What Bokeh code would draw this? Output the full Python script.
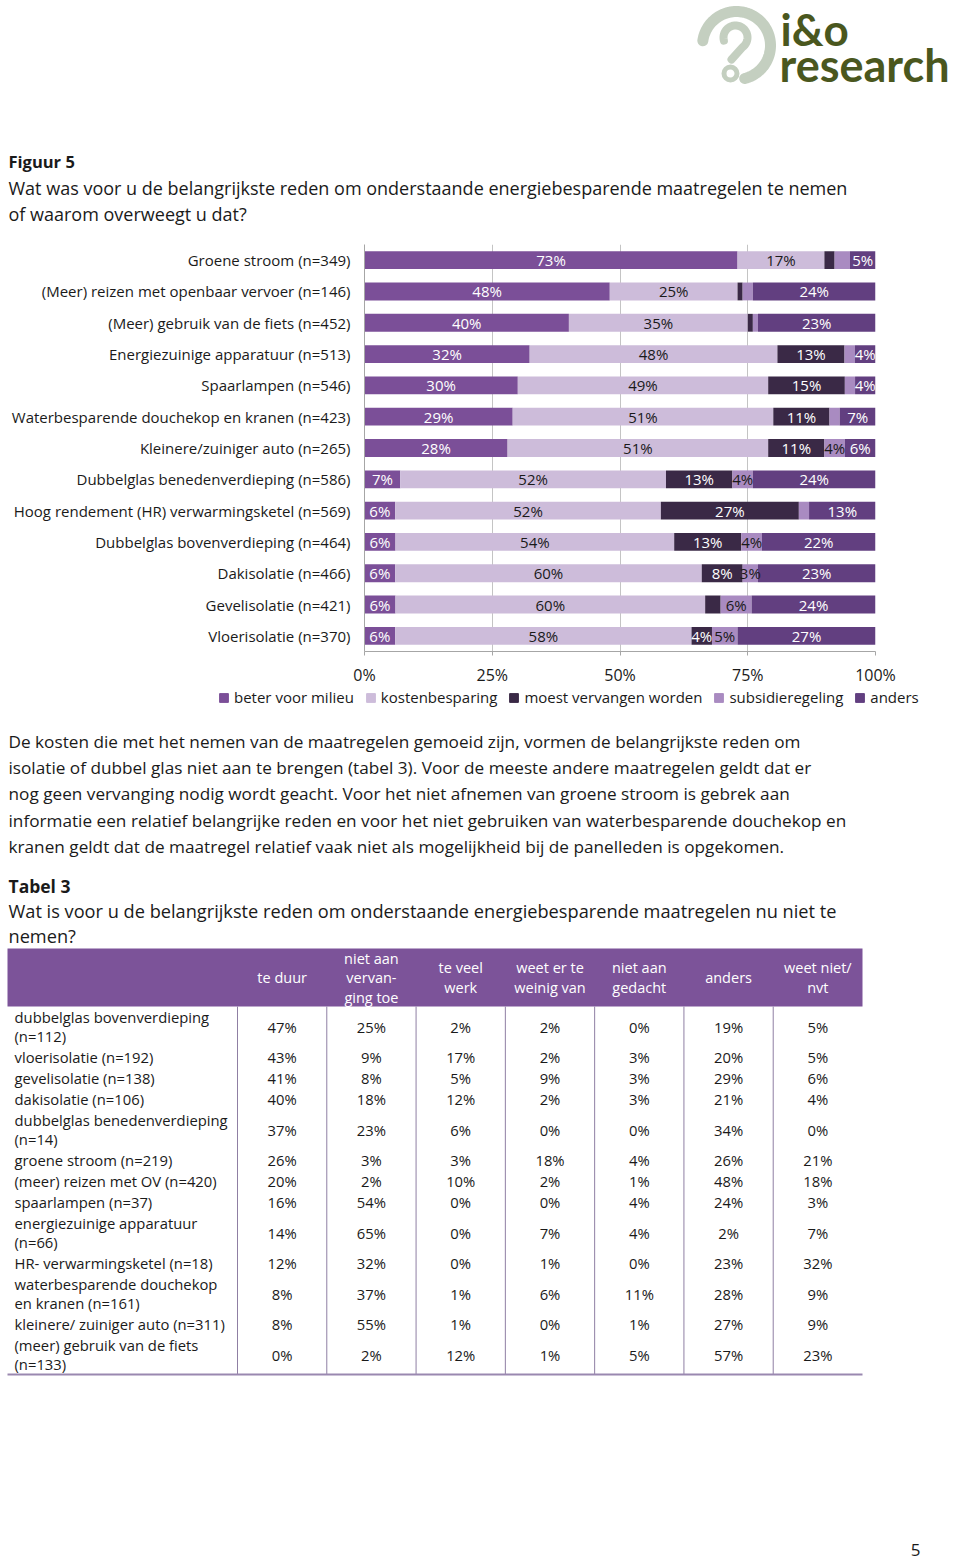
import numpy as np
import pandas as pd
from bokeh.plotting import figure
from bokeh.models import (ColumnDataSource, Range1d, FactorRange, Legend, LegendItem,
                          FixedTicker)
from bokeh.layouts import column
from bokeh.core.properties import value
from bokeh.embed import file_html
from bokeh.resources import INLINE

FONT = "Open Sans"
TXT = "#1a1a1a"

# ---------------- data: figure 5 (stacked 100% bars) ----------------
categories = [
    "Groene stroom (n=349)",
    "(Meer) reizen met openbaar vervoer (n=146)",
    "(Meer) gebruik van de fiets (n=452)",
    "Energiezuinige apparatuur (n=513)",
    "Spaarlampen (n=546)",
    "Waterbesparende douchekop en kranen (n=423)",
    "Kleinere/zuiniger auto (n=265)",
    "Dubbelglas benedenverdieping (n=586)",
    "Hoog rendement (HR) verwarmingsketel (n=569)",
    "Dubbelglas bovenverdieping (n=464)",
    "Dakisolatie (n=466)",
    "Gevelisolatie (n=421)",
    "Vloerisolatie (n=370)",
]
series_names = ["beter voor milieu", "kostenbesparing", "moest vervangen worden",
                "subsidieregeling", "anders"]
milieu    = [73, 48, 40, 32, 30, 29, 28, 7, 6, 6, 6, 6, 6]
kosten    = [17, 25, 35, 48, 49, 51, 51, 52, 52, 54, 60, 60, 58]
vervangen = [2, 1, 1, 13, 15, 11, 11, 13, 27, 13, 8, 3, 4]
subsidie  = [3, 2, 1, 2, 2, 2, 4, 4, 2, 4, 3, 6, 5]
anders    = [5, 24, 23, 4, 4, 7, 6, 24, 13, 22, 23, 24, 27]
hidden_labels = [("Gevelisolatie (n=421)", "moest vervangen worden"),
                 ("Groene stroom (n=349)", "subsidieregeling")]

colors = ["#7B4F98", "#CDBCDA", "#3A2946", "#A98BC1", "#623F80"]
label_colors = ["white", TXT, "white", TXT, "white"]
x_ticks = [0, 25, 50, 75, 100]
x_tick_labels = ["0%", "25%", "50%", "75%", "100%"]

# ---------------- data: tabel 3 ----------------
table_rows = [
    "dubbelglas bovenverdieping\n(n=112)",
    "vloerisolatie (n=192)",
    "gevelisolatie (n=138)",
    "dakisolatie (n=106)",
    "dubbelglas benedenverdieping\n(n=14)",
    "groene stroom (n=219)",
    "(meer) reizen met OV (n=420)",
    "spaarlampen (n=37)",
    "energiezuinige apparatuur\n(n=66)",
    "HR- verwarmingsketel (n=18)",
    "waterbesparende douchekop\nen kranen (n=161)",
    "kleinere/ zuiniger auto (n=311)",
    "(meer) gebruik van de fiets\n(n=133)",
]
table_cols = ["te duur", "niet aan\nvervan-\nging toe", "te veel\nwerk",
              "weet er te\nweinig van", "niet aan\ngedacht", "anders", "weet niet/\nnvt"]
te_duur          = [47, 43, 41, 40, 37, 26, 20, 16, 14, 12, 8, 8, 0]
niet_vervanging  = [25, 9, 8, 18, 23, 3, 2, 54, 65, 32, 37, 55, 2]
te_veel_werk     = [2, 17, 5, 12, 6, 3, 10, 0, 0, 0, 1, 1, 12]
weet_te_weinig   = [2, 2, 9, 2, 0, 18, 2, 0, 7, 1, 6, 0, 1]
niet_aan_gedacht = [0, 3, 3, 3, 0, 4, 1, 4, 4, 0, 11, 1, 5]
anders_tabel     = [19, 20, 29, 21, 34, 26, 48, 24, 2, 23, 28, 27, 57]
weet_niet_nvt    = [5, 5, 6, 4, 0, 21, 18, 3, 7, 32, 9, 9, 23]

title_fig = "Figuur 5"
question_fig = ["Wat was voor u de belangrijkste reden om onderstaande energiebesparende maatregelen te nemen",
                "of waarom overweegt u dat?"]
paragraph = [
    "De kosten die met het nemen van de maatregelen gemoeid zijn, vormen de belangrijkste reden om",
    "isolatie of dubbel glas niet aan te brengen (tabel 3). Voor de meeste andere maatregelen geldt dat er",
    "nog geen vervanging nodig wordt geacht. Voor het niet afnemen van groene stroom is gebrek aan",
    "informatie een relatief belangrijke reden en voor het niet gebruiken van waterbesparende douchekop en",
    "kranen geldt dat de maatregel relatief vaak niet als mogelijkheid bij de panelleden is opgekomen.",
]
title_tab = "Tabel 3"
question_tab = ["Wat is voor u de belangrijkste reden om onderstaande energiebesparende maatregelen nu niet te",
                "nemen?"]
page_number = "5"

W = 960


def blank(height, y0, y1):
    p = figure(width=W, height=height, x_range=Range1d(0, W), y_range=Range1d(y1, y0),
               min_border=0, toolbar_location=None, output_backend="svg",
               x_axis_location=None, y_axis_location=None, frame_align=False)
    p.grid.visible = False
    p.outline_line_color = None
    return p


# ================= header figure (page y 0..240) =================
pa = blank(240, 0, 240)
logo_grey = "#C4CFC0"
t = np.radians(np.linspace(172, -76, 80))
pa.line(736 + 34 * np.cos(t), 45 - 34 * np.sin(t), line_width=11, color=logo_grey, line_cap="round")
t2 = np.radians(np.linspace(195, -55, 60))
qx = list(735 + 12 * np.cos(t2)) + [731]
qy = list(37 - 12 * np.sin(t2)) + [59]
pa.line(qx, qy, line_width=8, color=logo_grey, line_cap="round")
pa.scatter([730], [73], size=13, fill_color="white", line_color=logo_grey, line_width=5)
pa.text(x=[780], y=[28], text=["i&o"], text_font=value("Lato"), text_font_style="bold",
        text_font_size="44px", text_color="#4A571E", text_baseline="alphabetic")
pa.text(x=[779], y=[64], text=["research"], text_font=value("Lato"), text_font_style="bold",
        text_font_size="45px", text_color="#4A571E", text_baseline="alphabetic")
pa.text(x=[8], y=[161], text=[title_fig], text_font=value(FONT), text_font_style="bold",
        text_font_size="16.5px", text_color=TXT, text_baseline="middle")
pa.text(x=[8, 8], y=[187, 213], text=question_fig, text_font=value(FONT),
        text_font_size="18px", text_color=TXT, text_baseline="middle")

# ================= bar chart (page y 240..688) =================
df = pd.DataFrame({"cat": categories, series_names[0]: milieu, series_names[1]: kosten,
                   series_names[2]: vervangen, series_names[3]: subsidie,
                   series_names[4]: anders})
vals = df[series_names].astype(float)
norm = vals.div(vals.sum(axis=1), axis=0) * 100
ndf = norm.copy()
ndf["cat"] = categories
src = ColumnDataSource(ndf)

pb = figure(width=W, height=448, x_range=Range1d(0, 100),
            y_range=FactorRange(factors=list(reversed(categories))),
            min_border_left=364, min_border_right=85, min_border_top=4, min_border_bottom=36,
            toolbar_location=None, output_backend="svg", frame_align=False)
pb.outline_line_color = None
rends = pb.hbar_stack(series_names, y="cat", height=0.57, color=colors, line_color=None,
                      source=src)

lx, ly, lt, lc = [], [], [], []
cum = norm.cumsum(axis=1)
for i, cat in enumerate(categories):
    for j, s in enumerate(series_names):
        v = vals.iloc[i][s]
        if v < 3 or (cat, s) in hidden_labels:
            continue
        lx.append(cum.iloc[i][s] - norm.iloc[i][s] / 2)
        ly.append(cat)
        lt.append(f"{int(v)}%")
        lc.append(label_colors[j])
pb.text(x=lx, y=ly, text=lt, text_color=lc, text_align="center", text_baseline="middle",
        text_font=value(FONT), text_font_size="15px")

pb.xaxis.ticker = FixedTicker(ticks=x_ticks)
pb.xaxis.major_label_overrides = {k: v for k, v in zip(x_ticks, x_tick_labels)}
pb.xaxis.axis_line_color = "#A6A6A6"
pb.xaxis.major_tick_line_color = "#A6A6A6"
pb.xaxis.major_tick_in = 0
pb.xaxis.major_tick_out = 4
pb.xaxis.minor_tick_line_color = None
pb.xaxis.major_label_standoff = 8
pb.xaxis.major_label_text_font = FONT
pb.xaxis.major_label_text_font_size = "16px"
pb.xaxis.major_label_text_color = TXT
pb.yaxis.axis_line_color = "#A6A6A6"
pb.yaxis.major_tick_line_color = None
pb.yaxis.major_label_standoff = 8
pb.yaxis.major_label_text_font = FONT
pb.yaxis.major_label_text_font_size = "15px"
pb.yaxis.major_label_text_color = TXT
pb.xgrid.ticker = FixedTicker(ticks=x_ticks[1:-1])
pb.xgrid.grid_line_color = "#C4C4C4"
pb.ygrid.grid_line_color = None

# ================= legend strip (page y 688..715) =================
pl = blank(27, 688, 715)
proxy_src = ColumnDataSource(data=dict(y=[np.nan], right=[np.nan]))
proxies = [pl.hbar(y="y", right="right", height=1, color=c, source=proxy_src) for c in colors]
legend = Legend(items=[LegendItem(label=n, renderers=[r]) for n, r in zip(series_names, proxies)],
                orientation="horizontal", location=(218, 8), glyph_width=11, glyph_height=11,
                label_standoff=5, spacing=11, padding=0, margin=0, label_height=18,
                label_text_font=FONT, label_text_font_size="15px", label_text_color=TXT,
                border_line_color=None, background_fill_alpha=0)
pl.add_layout(legend)

# ================= text + table (page y 715..1564) =================
pc = blank(849, 715, 1564)
pc.text(x=[8] * len(paragraph), y=[741 + 26.2 * i for i in range(len(paragraph))], text=paragraph,
        text_font=value(FONT), text_font_size="17.2px", text_color=TXT, text_baseline="middle")
pc.text(x=[8], y=[885], text=[title_tab], text_font=value(FONT), text_font_style="bold",
        text_font_size="17.5px", text_color=TXT, text_baseline="middle")
pc.text(x=[8, 8], y=[910, 935], text=question_tab, text_font=value(FONT),
        text_font_size="18.2px", text_color=TXT, text_baseline="middle")

tab_left, tab_first, tab_right = 7, 237, 862
head_top, head_bot = 948, 1006
ncol = len(table_cols)
cw = (tab_right - tab_first) / ncol
col_c = [tab_first + cw * (k + 0.5) for k in range(ncol)]
edges = [tab_first + cw * k for k in range(ncol)]

pc.quad(left=[tab_left], right=[tab_right], top=[head_top], bottom=[head_bot],
        fill_color="#7C5399", line_color=None)
hx, hy, ht = [], [], []
for k, h in enumerate(table_cols):
    parts = h.split("\n")
    n = len(parts)
    for m, part in enumerate(parts):
        hx.append(col_c[k])
        hy.append((head_top + head_bot) / 2 + (m - (n - 1) / 2) * 19.5)
        ht.append(part)
pc.text(x=hx, y=hy, text=ht, text_color="white", text_align="center", text_baseline="middle",
        text_font=value(FONT), text_font_size="14.5px")

cols_data = [te_duur, niet_vervanging, te_veel_werk, weet_te_weinig, niet_aan_gedacht,
             anders_tabel, weet_niet_nvt]
bx, by, bt, ba = [], [], [], []
y = head_bot
for i, lab in enumerate(table_rows):
    parts = lab.split("\n")
    rh = 21 if len(parts) == 1 else 40
    yc = y + rh / 2
    for m, part in enumerate(parts):
        bx.append(14)
        by.append(yc + (m - (len(parts) - 1) / 2) * 19)
        bt.append(part)
        ba.append("left")
    for k in range(ncol):
        bx.append(col_c[k])
        by.append(yc)
        bt.append(f"{cols_data[k][i]}%")
        ba.append("center")
    y += rh
tab_bottom = y
pc.text(x=bx, y=by, text=bt, text_align=ba, text_baseline="middle", text_color=TXT,
        text_font=value(FONT), text_font_size="14.8px")
pc.segment(x0=edges, x1=edges, y0=[head_bot] * ncol, y1=[tab_bottom] * ncol,
           line_color="#8F7FA3", line_width=1)
pc.segment(x0=[tab_left], x1=[tab_right], y0=[tab_bottom], y1=[tab_bottom],
           line_color="#9A88B0", line_width=2)
pc.text(x=[915], y=[1549], text=[page_number], text_font=value(FONT), text_font_size="17px",
        text_color=TXT, text_align="center", text_baseline="middle")

layout = column(pa, pb, pl, pc, spacing=0)
open("out.html", "w").write(file_html(layout, INLINE))
